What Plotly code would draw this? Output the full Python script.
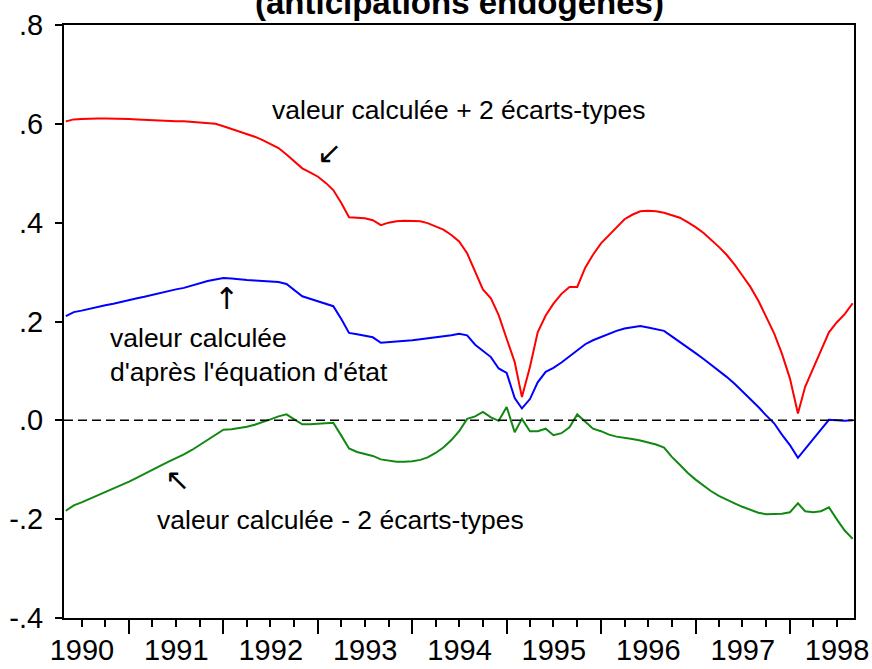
import pandas as pd
import plotly.graph_objects as go

# Monthly observations, 1990M05 .. 1998M09
dates = pd.date_range("1990-05-01", periods=101, freq="MS")

upper = [
    .605, .609, .610, .611, .611, .611, .611, .611, .610, .609,
    .608, .607, .606, .605, .605, .605, .604, .603, .602, .600,
    .595, .590, .585, .580, .574, .567, .559, .551, .538, .524,
    .510, .502, .493, .480, .466, .440, .411, .410, .409, .405,
    .395, .400, .403, .404, .404, .403, .399, .393, .386, .375,
    .362, .338, .300, .265, .247, .213, .165, .118, .047, .108,
    .178, .212, .236, .256, .270, .270, .309, .335, .358, .375,
    .392, .407, .416, .423, .424, .423, .420, .415, .410, .401,
    .391, .379, .366, .351, .335, .315, .293, .270, .242, .210,
    .176, .135, .085, .014, .068, .105, .140, .178, .198, .215,
    .237,
]

fitted = [
    .211, .219, .222, .226, .229, .233, .236, .240, .243, .247,
    .250, .254, .257, .261, .265, .268, .273, .278, .282, .285,
    .288, .287, .285, .284, .283, .282, .281, .280, .276, .263,
    .251, .246, .241, .237, .231, .205, .177, .174, .171, .168,
    .157, .158, .159, .160, .162, .164, .166, .167, .169, .172,
    .175, .172, .153, .140, .128, .105, .096, .045, .024, .043,
    .077, .098, .106, .117, .129, .141, .154, .162, .169, .175,
    .181, .186, .189, .191, .188, .185, .181, .170, .159, .147,
    .136, .124, .113, .101, .088, .074, .059, .044, .027, .010,
    -.006, -.029, -.050, -.076, -.057, -.038, -.019, .001, .000, -.001,
    .000,
]

lower = [
    -.183, -.172, -.166, -.159, -.153, -.146, -.139, -.131, -.124, -.116,
    -.108, -.099, -.092, -.084, -.077, -.069, -.060, -.050, -.040, -.030,
    -.019, -.018, -.016, -.013, -.009, -.004, .002, .008, .012, .002,
    -.008, -.008, -.007, -.006, -.005, -.031, -.057, -.064, -.068, -.072,
    -.079, -.082, -.084, -.084, -.083, -.080, -.075, -.066, -.055, -.040,
    -.022, .003, .008, .017, .006, -.001, .027, -.024, .003, -.022,
    -.022, -.017, -.030, -.026, -.014, .012, -.003, -.017, -.022, -.029,
    -.033, -.035, -.038, -.041, -.045, -.049, -.055, -.074, -.090, -.106,
    -.120, -.132, -.143, -.153, -.161, -.168, -.175, -.181, -.187, -.190,
    -.190, -.189, -.186, -.168, -.184, -.186, -.184, -.176, -.200, -.223,
    -.240,
]

y_tickvals = [0.8, 0.6, 0.4, 0.2, 0.0, -0.2, -0.4]
y_ticktext = [".8", ".6", ".4", ".2", ".0", "-.2", "-.4"]

title_text = "(anticipations endogènes)"
label_upper = "valeur calculée + 2 écarts-types"
label_fit = "valeur calculée<br>d'après l'équation d'état"
label_lower = "valeur calculée - 2 écarts-types"

FONT = "Liberation Sans, Arial, sans-serif"

fig = go.Figure()
fig.add_trace(go.Scatter(x=dates, y=upper, mode="lines",
                         line=dict(color="#ff0000", width=2), showlegend=False))
fig.add_trace(go.Scatter(x=dates, y=fitted, mode="lines",
                         line=dict(color="#0000ff", width=2), showlegend=False))
fig.add_trace(go.Scatter(x=dates, y=lower, mode="lines",
                         line=dict(color="#118811", width=2), showlegend=False))

fig.add_hline(y=0, line=dict(color="black", width=1.5, dash="9px,5px"))

ann_font = dict(family=FONT, size=26.5, color="black")
arrow_font = dict(family="DejaVu Sans, sans-serif", size=30, color="black")

fig.add_annotation(x="1992-07-01", y=0.628, text=label_upper, showarrow=False,
                   xanchor="left", yanchor="middle", font=ann_font)
fig.add_annotation(x="1993-02-15", y=0.541, text="↙", showarrow=False,
                   xanchor="center", yanchor="middle", font=arrow_font)
fig.add_annotation(x="1992-01-13", y=0.247, text="↑", showarrow=False,
                   xanchor="center", yanchor="middle", font=arrow_font)
fig.add_annotation(x="1990-10-13", y=0.132, text=label_fit, showarrow=False,
                   xanchor="left", yanchor="middle", align="left", font=ann_font)
fig.add_annotation(x="1991-07-07", y=-0.120, text="↖", showarrow=False,
                   xanchor="center", yanchor="middle", font=arrow_font)
fig.add_annotation(x="1991-04-13", y=-0.201, text=label_lower, showarrow=False,
                   xanchor="left", yanchor="middle", font=ann_font)

fig.add_annotation(xref="paper", yref="paper", x=0.5, y=1, yanchor="bottom",
                   yshift=2, text="<b>" + title_text + "</b>", showarrow=False,
                   font=dict(family=FONT, size=33, color="black"))

fig.update_xaxes(
    type="date",
    range=["1990-04-24", "1998-09-06"],
    tick0="1990-01-01", dtick="M12", tickformat="%Y",
    ticklabelmode="period",
    ticks="outside", ticklen=14, tickwidth=1.5, tickcolor="black",
    ticklabelstandoff=-9,
    minor=dict(dtick="M3", ticks="outside", ticklen=7, tickwidth=1.5, tickcolor="black"),
    showline=True, linewidth=2, linecolor="black", mirror=True,
    showgrid=False, zeroline=False,
    tickfont=dict(family=FONT, size=29, color="black"),
)
fig.update_yaxes(
    range=[-0.4, 0.8],
    tickvals=y_tickvals, ticktext=y_ticktext,
    ticks="outside", ticklen=7, tickwidth=1.5, tickcolor="black",
    ticklabelstandoff=6,
    showline=True, linewidth=2, linecolor="black", mirror=True,
    showgrid=False, zeroline=False,
    tickfont=dict(family=FONT, size=29, color="black"),
)

fig.update_layout(
    width=872, height=669,
    margin=dict(l=64, r=18, t=25, b=51, autoexpand=False),
    paper_bgcolor="white", plot_bgcolor="white",
    showlegend=False, hovermode=False,
)

fig.write_html("out.html", config={"displayModeBar": False},
               post_script="document.body.style.margin='0';document.body.style.overflow='hidden';")
